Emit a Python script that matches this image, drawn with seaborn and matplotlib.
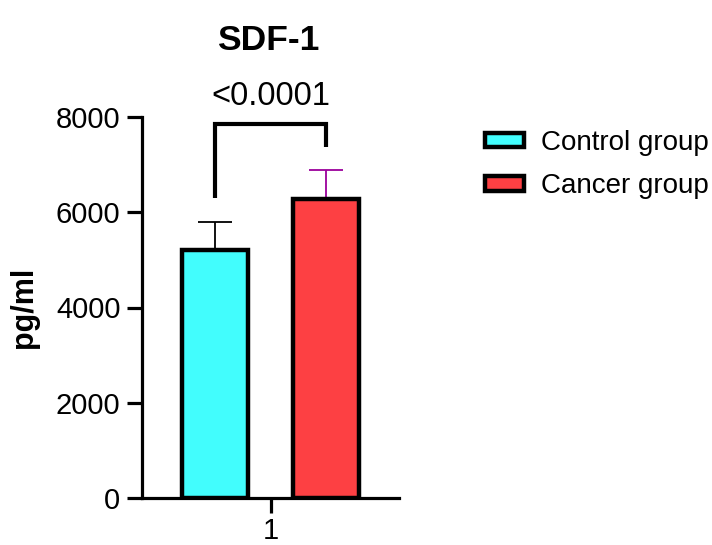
import numpy as np
import pandas as pd
import matplotlib
matplotlib.use('Agg')
import matplotlib.pyplot as plt
from matplotlib.patches import Patch
import seaborn as sns

# summary values (mean and SD, pg/ml)
groups = ['Control group', 'Cancer group']
means = [5210, 6280]
sds = [590, 610]
xcat = ['1', '1']
colors = ['#42FDFD', '#FD4043']
err_colors = ['black', '#9B009B']
title = 'SDF-1'
pval = '<0.0001'

df = pd.DataFrame({'x': xcat, 'group': groups, 'mean': means})

sns.set_theme(style='ticks')
plt.rcParams['font.family'] = ['Liberation Sans', 'DejaVu Sans']
plt.rcParams['text.color'] = 'black'
plt.rcParams['axes.labelcolor'] = 'black'

fig = plt.figure(figsize=(7.12, 5.45), dpi=100)
ax = fig.add_axes([142/712, 1 - 498/545, 257/712, (498-117)/545])

sns.barplot(data=df, x='x', y='mean', hue='group', hue_order=groups,
            palette=colors, saturation=1, width=0.8, gap=0.4,
            edgecolor='black', linewidth=3.2, errorbar=None, legend=False,
            ax=ax, zorder=3)

# error bars (upper only) at bar centres
centers = []
for i, bar in enumerate(ax.patches[:2]):
    cx = bar.get_x() + bar.get_width() / 2
    centers.append(cx)
    ax.errorbar(cx, means[i], yerr=[[0], [sds[i]]], fmt='none',
                ecolor=err_colors[i], elinewidth=1.3, capsize=12,
                capthick=1.3, zorder=2)

# significance bracket
ax.plot([centers[0], centers[0], centers[1], centers[1]],
        [6300, 7850, 7850, 7370], color='black', lw=3, clip_on=False,
        solid_capstyle='butt', solid_joinstyle='miter')
ax.text(np.mean(centers), 8420, pval, ha='center', va='center',
        fontsize=23.5, color='black', clip_on=False)

ax.set_xlim(-0.467, 0.467)
ax.set_ylim(0, 8000)
ax.set_yticks([0, 2000, 4000, 6000, 8000])
ax.set_xlabel('')
ax.set_ylabel('pg/ml', fontsize=22, fontweight='bold', labelpad=12)
sns.despine(ax=ax)
for s in ['left', 'bottom']:
    ax.spines[s].set_linewidth(2.3)
    ax.spines[s].set_color('black')
ax.tick_params(axis='both', width=2.3, length=10.5, labelsize=21,
               pad=5, color='black', labelcolor='black')
ax.tick_params(axis='x', pad=3)

fig.text(268/712, 1 - 40/545, title, ha='center', va='center',
         fontsize=25.5, fontweight='bold', color='black')

handles = [Patch(facecolor=c, edgecolor='black', linewidth=3.2) for c in colors]
fig.legend(handles=handles, labels=groups, loc='center left',
           bbox_to_anchor=(485/712, 1 - 164.5/545), frameon=False,
           fontsize=20, borderpad=0, borderaxespad=0, handlelength=1.4,
           handleheight=0.45, handletextpad=0.6, labelspacing=0.62)

fig.savefig('out.png', dpi=100)
